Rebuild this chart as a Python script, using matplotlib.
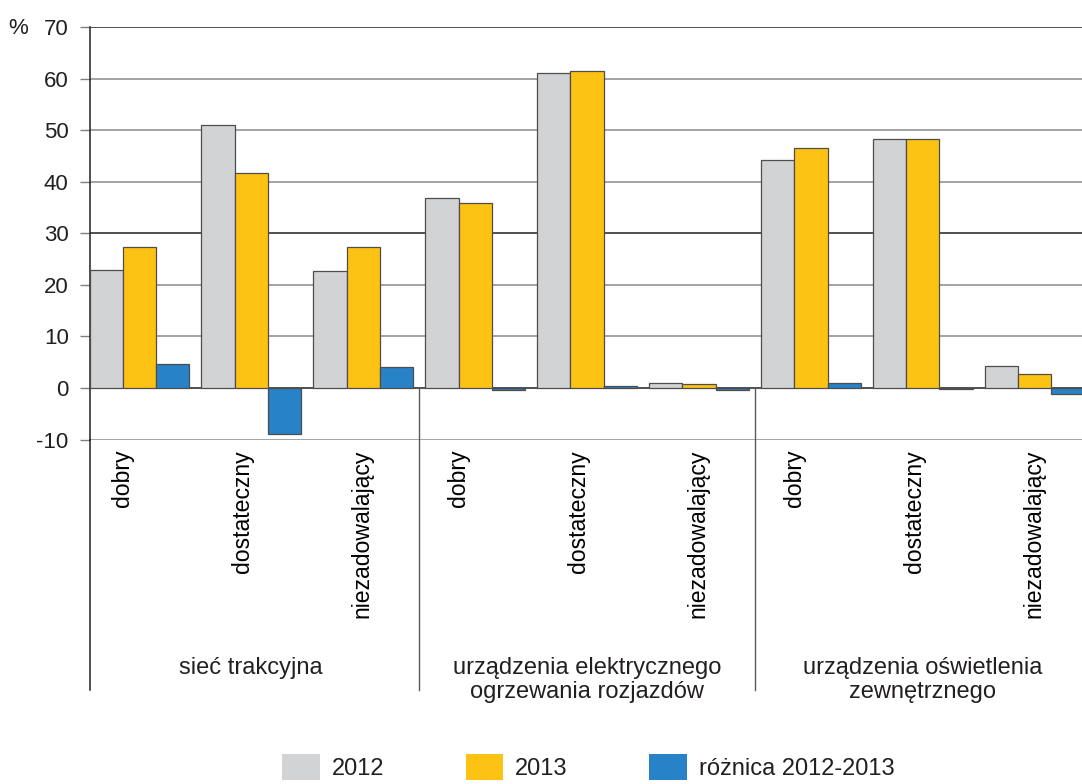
import numpy as np
import matplotlib
matplotlib.use("Agg")
import matplotlib.pyplot as plt
from matplotlib.patches import Patch
import matplotlib.transforms as mtransforms

plt.rcParams['font.family'] = ['Liberation Sans', 'DejaVu Sans']
plt.rcParams['text.color'] = '#231f20'
plt.rcParams['axes.unicode_minus'] = False

# data (%)
categories = ['dobry', 'dostateczny', 'niezadowalający'] * 3
groups = ['sieć trakcyjna',
          'urządzenia elektrycznego\nogrzewania rozjazdów',
          'urządzenia oświetlenia\nzewnętrznego']
v2012 = [22.9, 50.9, 22.6, 36.9, 61.0, 1.0, 44.2, 48.3, 4.3]
v2013 = [27.4, 41.7, 27.4, 35.9, 61.5, 0.7, 46.6, 48.3, 2.8]
diff = [4.7, -9.0, 4.0, -0.4, 0.45, -0.4, 1.0, -0.3, -1.1]
series_names = ['2012', '2013', 'różnica 2012-2013']
colors = ['#d1d3d4', '#fdc314', '#2882c8']
yticks = [-10, 0, 10, 20, 30, 40, 50, 60, 70]

fig = plt.figure(figsize=(10.82, 7.84), dpi=100)
ax = fig.add_axes([89.5 / 1082, 1 - 439.5 / 784, 1 - 89.5 / 1082, 412.5 / 784])

x = np.arange(len(categories))
w = 0.295
for i, vals in enumerate([v2012, v2013, diff]):
    ax.bar(x + (i - 1) * w, vals, w, color=colors[i], edgecolor='#4d4d4d',
           linewidth=0.9, zorder=3)

ax.set_xlim(-1.5 * w, 8.42)
ax.set_ylim(-10, 70)
ax.set_yticks(yticks)
ax.tick_params(axis='y', length=7, width=1, color='#808080', pad=8, labelsize=16,
               labelcolor='#231f20')

dark = {70, 30, 0}
for v, t in zip(yticks, ax.yaxis.get_major_ticks()):
    c = '#231f20' if v in dark else '#8a8a8a'
    ax.axhline(v, color=c, linewidth=1.1, zorder=1)
    t.tick1line.set_color(c)

for s in ['top', 'right', 'bottom']:
    ax.spines[s].set_visible(False)
ax.spines['left'].set_color('#231f20')
ax.spines['left'].set_linewidth(1.1)

# category labels (rotated), spread a bit wider than the bars
pos = []
for g in range(3):
    for j in range(3):
        pos.append(3 * g + 1 - 0.08 + (j - 1) * 1.07)
ax.set_xticks(pos)
ax.set_xticklabels(categories, rotation=90, va='top', ha='center', fontsize=16.6)
ax.tick_params(axis='x', length=0, pad=7.5)

trans = mtransforms.blended_transform_factory(ax.transData, ax.transAxes)
# left spine and group separators extended below the axis
ax.plot([-1.5 * w, -1.5 * w], [0, -0.607], transform=trans, color='#231f20',
        linewidth=1.1, clip_on=False)
for sx in [2.5, 5.5]:
    ax.plot([sx, sx], [0.125, -0.607], transform=trans, color='#5a5a5a',
            linewidth=1.0, clip_on=False)

for g, name in enumerate(groups):
    ax.text(3 * g + 1, -0.527, name, transform=trans, ha='center', va='top',
            fontsize=17, linespacing=1.1)

fig.text(18 / 1082, 1 - 29 / 784, '%', ha='center', va='center', fontsize=16)

handles = [Patch(facecolor=c, edgecolor='none') for c in colors]
fig.legend(handles, series_names, loc='center left',
           bbox_to_anchor=(282 / 1082, 1 - 767 / 784), ncol=3, frameon=False,
           fontsize=17, handlelength=1.6, handleheight=1.31, handletextpad=0.5,
           columnspacing=3.45, borderpad=0, borderaxespad=0)

fig.savefig('out.png', dpi=100)
